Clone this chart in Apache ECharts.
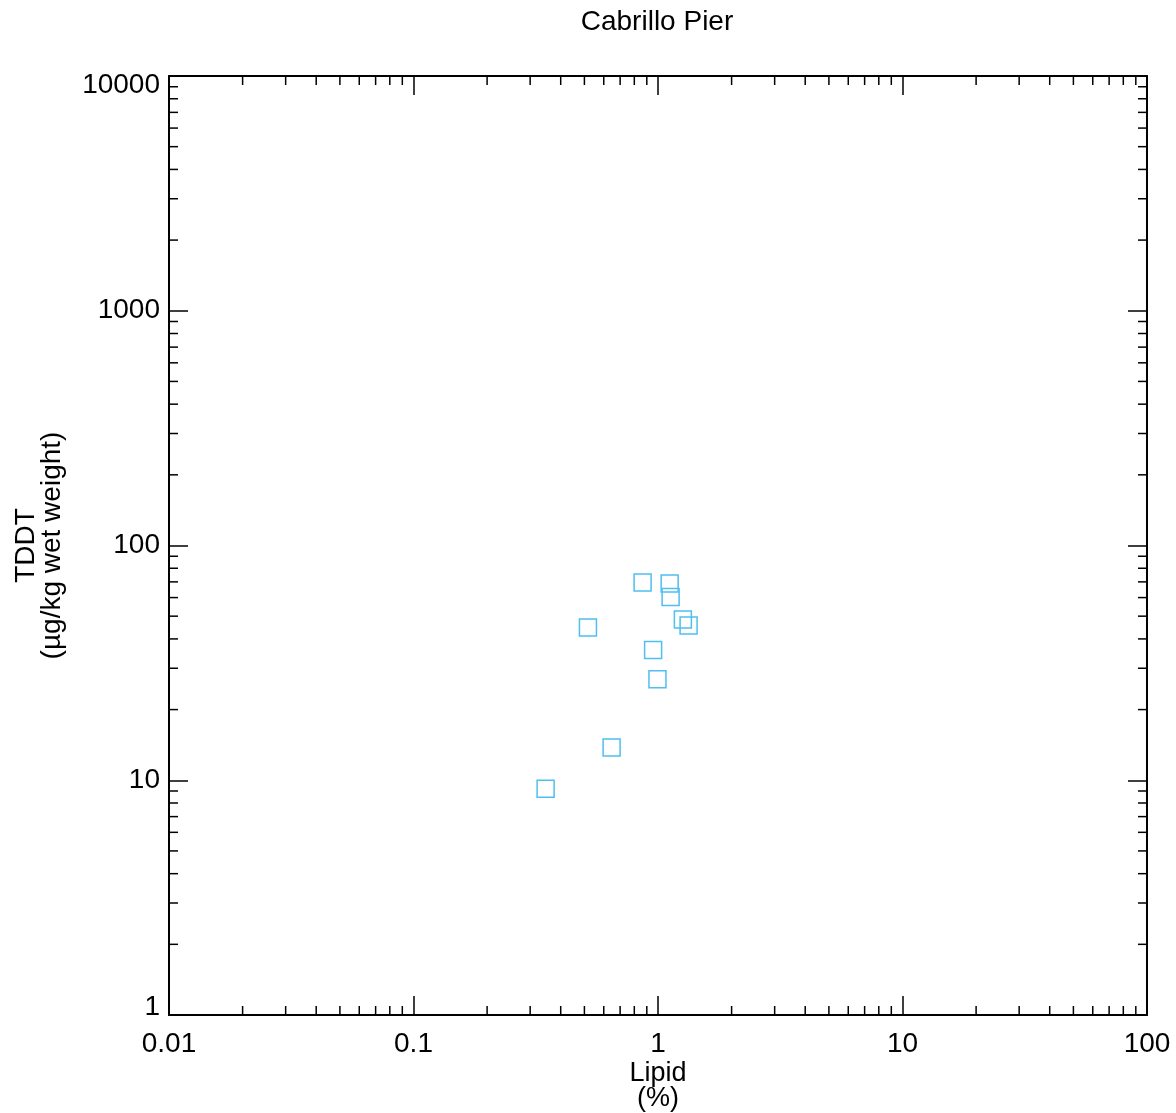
<!DOCTYPE html>
<html>
<head>
<meta charset="utf-8">
<title>Cabrillo Pier</title>
<script src="https://cdn.jsdelivr.net/npm/echarts@6/dist/echarts.min.js"></script>
<style>
  html, body { margin: 0; padding: 0; background: #ffffff; }
  #chart { width: 1176px; height: 1113px; }
</style>
</head>
<body>
<div id="chart"></div>
<script>
// Lipid content (%) against total DDT (µg/kg wet weight), Cabrillo Pier samples
const lipidPct = [0.865, 1.116, 1.126, 1.264, 1.334, 0.517, 0.955, 0.995, 0.646, 0.347];
const tddt     = [69.5, 68.9, 60.3, 48.4, 45.6, 44.7, 35.9, 26.9, 13.8, 9.2];

// Axis ranges and decade labels
const xRange = [0.01, 100];
const yRange = [1, 10000];
const xTickLabels = ['0.01', '0.1', '1', '10', '100'];
const yTickLabels = ['1', '10', '100', '1000', '10000'];

// Minor tick multipliers inside each decade
const minorSteps = [2, 3, 4, 5, 6, 7, 8, 9];

const FONT = '"Liberation Sans", Arial, Helvetica, sans-serif';
const POINT_COLOR = '#4FBFEF';

function decadeIndex(v, lo) {
  return Math.round(Math.log10(v) - Math.log10(lo));
}

function minorValues(lo, hi) {
  const out = [];
  for (let d = lo; d < hi * 0.999; d *= 10) {
    minorSteps.forEach(function (m) { out.push(+(d * m).toPrecision(6)); });
  }
  return out;
}

const xMinor = minorValues(xRange[0], xRange[1]).map(function (v) { return [v, yRange[0]]; });
const yMinor = minorValues(yRange[0], yRange[1]).map(function (v) { return [xRange[0], v]; });

const MINOR_LEN = 9;
const tickStyle = { stroke: '#000', lineWidth: 1.5 };

const points = lipidPct.map(function (x, i) { return [x, tddt[i]]; });

const axisLineStyle = { lineStyle: { color: '#000', width: 2 } };
const majorTick = { show: true, inside: true, length: 19, lineStyle: { color: '#000', width: 1.5 } };

const chart = echarts.init(document.getElementById('chart'), null, { renderer: 'canvas' });

chart.setOption({
  backgroundColor: '#ffffff',
  animation: false,
  title: {
    text: 'Cabrillo Pier',
    left: 652,
    textAlign: 'center',
    top: 3,
    textStyle: { fontFamily: FONT, fontSize: 28, fontWeight: 'normal', color: '#000' }
  },
  grid: { left: 169, right: 29, top: 76, bottom: 98, containLabel: false, outerBoundsMode: 'none' },
  xAxis: [
    {
      type: 'log',
      logBase: 10,
      min: xRange[0],
      max: xRange[1],
      interval: 1,
      position: 'bottom',
      name: 'Lipid\n(%)',
      nameLocation: 'middle',
      nameGap: 46,
      nameMoveOverlap: false,
      nameTextStyle: { fontFamily: FONT, fontSize: 27, color: '#000', lineHeight: 25 },
      axisLine: axisLineStyle,
      axisTick: majorTick,
      splitLine: { show: false },
      axisLabel: {
        fontFamily: FONT, fontSize: 28, color: '#000', margin: 15,
        formatter: function (v) { return xTickLabels[decadeIndex(v, xRange[0])]; }
      }
    },
    {
      type: 'log',
      logBase: 10,
      min: xRange[0],
      max: xRange[1],
      interval: 1,
      position: 'top',
      axisLine: axisLineStyle,
      axisTick: majorTick,
      axisLabel: { show: false },
      splitLine: { show: false }
    }
  ],
  yAxis: [
    {
      type: 'log',
      logBase: 10,
      min: yRange[0],
      max: yRange[1],
      interval: 1,
      position: 'left',
      name: 'TDDT\n(µg/kg wet weight)',
      nameLocation: 'middle',
      nameRotate: 90,
      nameGap: 104,
      nameMoveOverlap: false,
      nameTextStyle: { fontFamily: FONT, fontSize: 28, color: '#000', lineHeight: 26 },
      axisLine: axisLineStyle,
      axisTick: majorTick,
      splitLine: { show: false },
      axisLabel: {
        fontFamily: FONT, fontSize: 28, color: '#000', margin: 9,
        formatter: function (v) {
          const i = decadeIndex(v, yRange[0]);
          const t = yTickLabels[i];
          if (i === yTickLabels.length - 1) return '{hi|' + t + '}';
          if (i === 0) return '{lo|' + t + '}';
          return t;
        },
        rich: {
          hi: { fontFamily: FONT, fontSize: 28, color: '#000', padding: [18, 0, 0, 0] },
          lo: { fontFamily: FONT, fontSize: 28, color: '#000', padding: [0, 0, 16, 0] }
        }
      }
    },
    {
      type: 'log',
      logBase: 10,
      min: yRange[0],
      max: yRange[1],
      interval: 1,
      position: 'right',
      axisLine: axisLineStyle,
      axisTick: majorTick,
      axisLabel: { show: false },
      splitLine: { show: false }
    }
  ],
  series: [
    {
      // minor ticks on bottom and top edges
      type: 'custom',
      silent: true,
      clip: false,
      xAxisIndex: 0,
      yAxisIndex: 0,
      data: xMinor,
      renderItem: function (params, api) {
        const bottom = api.coord([api.value(0), yRange[0]]);
        const top = api.coord([api.value(0), yRange[1]]);
        return {
          type: 'group',
          children: [
            { type: 'line', shape: { x1: bottom[0], y1: bottom[1], x2: bottom[0], y2: bottom[1] - MINOR_LEN }, style: tickStyle },
            { type: 'line', shape: { x1: top[0], y1: top[1], x2: top[0], y2: top[1] + MINOR_LEN }, style: tickStyle }
          ]
        };
      }
    },
    {
      // minor ticks on left and right edges
      type: 'custom',
      silent: true,
      clip: false,
      xAxisIndex: 0,
      yAxisIndex: 0,
      data: yMinor,
      renderItem: function (params, api) {
        const left = api.coord([xRange[0], api.value(1)]);
        const right = api.coord([xRange[1], api.value(1)]);
        return {
          type: 'group',
          children: [
            { type: 'line', shape: { x1: left[0], y1: left[1], x2: left[0] + MINOR_LEN, y2: left[1] }, style: tickStyle },
            { type: 'line', shape: { x1: right[0], y1: right[1], x2: right[0] - MINOR_LEN, y2: right[1] }, style: tickStyle }
          ]
        };
      }
    },
    {
      name: 'Cabrillo Pier',
      type: 'scatter',
      xAxisIndex: 0,
      yAxisIndex: 0,
      data: points,
      symbol: 'rect',
      symbolSize: 17,
      itemStyle: { color: 'rgba(0,0,0,0)', borderColor: POINT_COLOR, borderWidth: 1.5, opacity: 1 }
    }
  ]
});
</script>
</body>
</html>
